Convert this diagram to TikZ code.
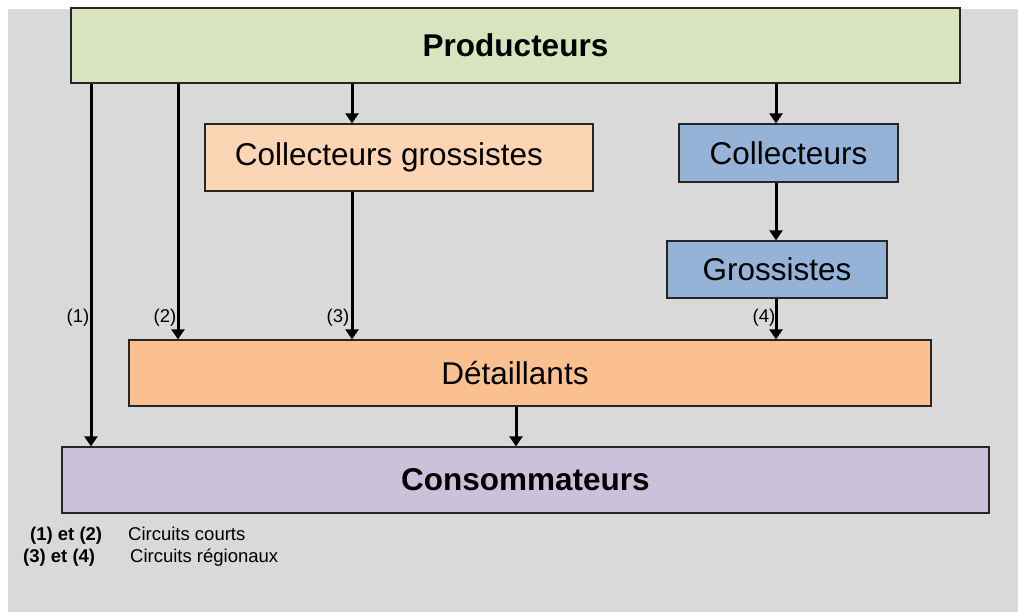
\documentclass[tikz,border=0pt]{standalone}
\usepackage{fontspec}
\setmainfont{Liberation Sans}
\usetikzlibrary{arrows.meta}
\definecolor{bggray}{HTML}{D9D9D9}
\definecolor{prodfill}{HTML}{D7E4BD}
\definecolor{cgfill}{HTML}{FCD5B5}
\definecolor{bluefill}{HTML}{95B3D7}
\definecolor{detfill}{HTML}{FAC090}
\definecolor{consfill}{HTML}{CCC1DA}
\definecolor{edge}{HTML}{262626}
\tikzset{
  box/.style={draw=edge, line width=1.3pt, inner sep=0pt, font=\fontsize{31.5}{36}\selectfont},
  arr/.style={line width=3pt, -{Triangle[width=13pt,length=10pt]}},
  lbl/.style={anchor=base, inner sep=0pt, font=\fontsize{18.5}{22}\selectfont},
  leg/.style={anchor=base west, inner sep=0pt, font=\fontsize{18.5}{22}\selectfont}
}
\begin{document}
\begin{tikzpicture}[x=1pt,y=-1pt]
\useasboundingbox (0,0) rectangle (1018,612);
\fill[bggray] (8,9) rectangle (1018,612);
\node[box, fill=prodfill, line width=2pt, minimum width=889pt, minimum height=75pt, font=\fontsize{31.5}{36}\selectfont\bfseries] (prod) at (515.5,45.5) {Producteurs};
\node[box, fill=cgfill, minimum width=388pt, minimum height=67pt] (cg) at (399,157.5) {\hspace*{-20pt}Collecteurs grossistes};
\node[box, fill=bluefill, minimum width=219pt, minimum height=58pt] (coll) at (788.5,153) {Collecteurs};
\node[box, fill=bluefill, minimum width=220pt, minimum height=57pt] (gros) at (777,269.5) {Grossistes};
\node[box, fill=detfill, minimum width=802pt, minimum height=66pt] (det) at (530,373) {\hspace*{-30pt}Détaillants};
\node[box, fill=consfill, minimum width=927pt, minimum height=66pt, font=\fontsize{31.5}{36}\selectfont\bfseries] (cons) at (525.5,480) {Consommateurs};
\draw[arr] (prod.south -| 91,0) -- (cons.north -| 91,0);
\draw[arr] (prod.south -| 178,0) -- (det.north -| 178,0);
\draw[arr] (prod.south -| 352,0) -- (cg.north -| 352,0);
\draw[arr] (cg.south -| 352,0) -- (det.north -| 352,0);
\draw[arr] (prod.south -| 776,0) -- (coll.north -| 776,0);
\draw[arr] (coll.south -| 776,0) -- (gros.north -| 776,0);
\draw[arr] (gros.south -| 776,0) -- (det.north -| 776,0);
\draw[arr] (det.south -| 516,0) -- (cons.north -| 516,0);
\node[lbl] (l1) at (78,323) {(1)};
\node[lbl] (l2) at (165,323) {(2)};
\node[lbl] (l3) at (338,323) {(3)};
\node[lbl] (l4) at (764,323) {(4)};
\node[leg, font=\fontsize{18.5}{22}\selectfont\bfseries] (g1) at (30,540) {(1) et (2)};
\node[leg, font=\fontsize{18.5}{22}\selectfont\bfseries] (g2) at (23,562) {(3) et (4)};
\node[leg] (c1) at (128,540) {Circuits courts};
\node[leg] (c2) at (130,562) {Circuits régionaux};
\end{tikzpicture}
\end{document}
